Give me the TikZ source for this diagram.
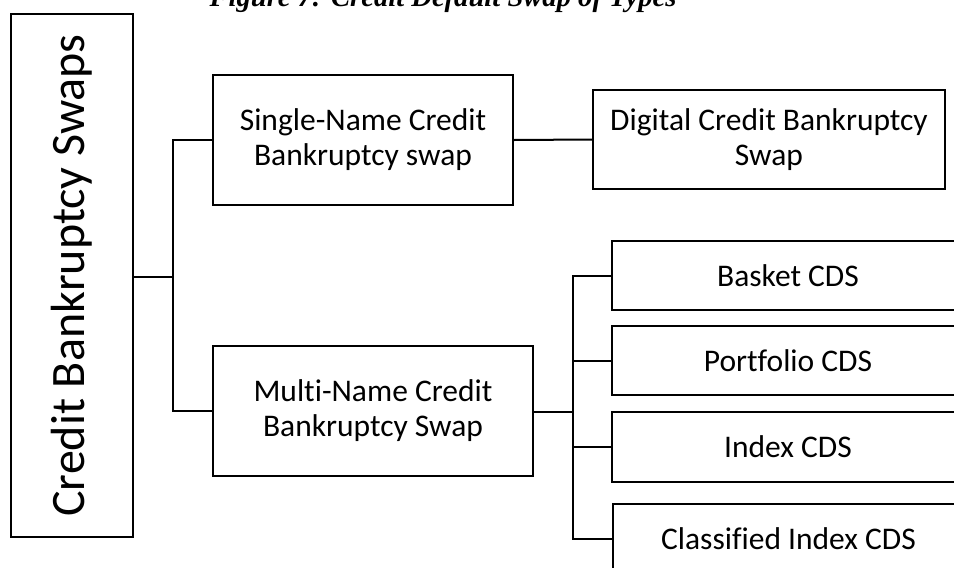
\documentclass[tikz,border=0pt]{standalone}
\usepackage{fontspec}
\setmainfont[Ligatures=CommonOff]{Carlito}
\newfontfamily\capfont{Liberation Serif}
\begin{document}
\begin{tikzpicture}[x=1pt,y=-1pt,
  line width=2pt,
  box/.style={draw, line width=2pt, inner sep=0pt, align=center,
    font=\fontsize{31.5}{35}\selectfont},
  leafbox/.style={box, minimum width=352pt, minimum height=69pt},
  link/.style={line width=2pt}]
\useasboundingbox (0,0) rectangle (954,568);
\clip (0,0) rectangle (954,568);

% caption, partly above the page
\node[anchor=base, inner sep=0pt, font=\capfont\bfseries\itshape\fontsize{28.6}{30}\selectfont]
  (cap) at (443,6) {Figure 7: Credit Default Swap of Types};

% root
\node[box, minimum width=122pt, minimum height=523pt] (root) at (72,275.5) {};
\node[rotate=90, inner sep=0pt, font=\fontsize{48}{50}\selectfont] (rootlbl) at (root.center) {Credit Bankruptcy Swaps};

% second level
\node[box, minimum width=300pt, minimum height=130pt] (single) at (363,140)
  {Single-Name Credit\\Bankruptcy swap};
\node[box, minimum width=320pt, minimum height=130pt] (multi) at (373,411)
  {Multi-Name Credit\\Bankruptcy Swap};

% third level
\node[box, minimum width=352pt, minimum height=99pt] (digital) at (769,139.5)
  {Digital Credit Bankruptcy\\Swap};
\node[leafbox] (basket) at (788,275.5) {Basket CDS};
\node[leafbox] (portfolio) at (788,360.5) {Portfolio CDS};
\node[leafbox, minimum height=70pt] (index) at (788,447) {Index CDS};
\node[leafbox, minimum height=70pt] (classified) at (788.5,539) {Classified Index CDS};

% connectors
\coordinate (j1) at (173,277);
\coordinate (j2) at (573,412);
\draw[link] (root.east |- j1) -- (j1);
\draw[link] (single.west) -| (j1);
\draw[link] (multi.west) -| (j1);
\draw[link] (single.east) -- (digital.west);
\draw[link] (multi.east |- j2) -- (j2);
\draw[link] (basket.west) -| (j2);
\draw[link] (portfolio.west) -| (j2);
\draw[link] (index.west) -| (j2);
\draw[link] (classified.west) -| (j2);
\end{tikzpicture}
\end{document}
